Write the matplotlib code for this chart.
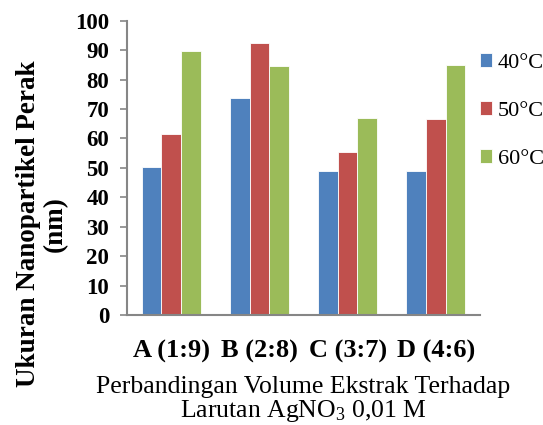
import matplotlib
matplotlib.use("Agg")
import matplotlib.pyplot as plt
import numpy as np

categories = ["A (1:9)", "B (2:8)", "C (3:7)", "D (4:6)"]
series_names = ["40°C", "50°C", "60°C"]
v40 = [50.3, 73.6, 49.1, 48.9]
v50 = [61.6, 92.6, 55.3, 66.6]
v60 = [89.7, 84.6, 66.8, 84.9]
colors = ["#4F81BD", "#C0504D", "#9BBB59"]
yticks = [0, 10, 20, 30, 40, 50, 60, 70, 80, 90, 100]

plt.rcParams['font.family'] = ['Liberation Serif', 'DejaVu Serif']
plt.rcParams['mathtext.fontset'] = 'custom'
plt.rcParams['mathtext.rm'] = 'Liberation Serif'
plt.rcParams['mathtext.it'] = 'Liberation Serif:italic'
plt.rcParams['mathtext.bf'] = 'Liberation Serif:bold'

fig = plt.figure(figsize=(5.43, 4.25), dpi=100)
ax = fig.add_axes([0.234, 0.259, 0.650, 0.692])

x = np.arange(len(categories))
w = 0.223
for i, (vals, name, c) in enumerate(zip([v40, v50, v60], series_names, colors)):
    ax.bar(x + (i - 1) * w, vals, w, color=c, label=name, edgecolor='white', linewidth=0.6)

ax.set_xlim(-0.5, len(categories) - 0.5)
ax.set_ylim(0, 100)
ax.set_yticks(yticks)
ax.set_yticklabels([str(t) for t in yticks], fontsize=16.5, fontweight='bold')
ax.set_xticks(x)
ax.set_xticklabels(categories, fontsize=19, fontweight='bold')
ax.tick_params(axis='x', length=0, pad=18)
ax.tick_params(axis='y', length=5, width=1.2, color='#868686', direction='out', pad=8)
for s in ['top', 'right']:
    ax.spines[s].set_visible(False)
for s in ['left', 'bottom']:
    ax.spines[s].set_color('#868686')
    ax.spines[s].set_linewidth(1.5)

ax.set_ylabel("Ukuran Nanopartikel Perak\n(nm)", fontsize=19.5, fontweight='bold', linespacing=1.1)
ax.yaxis.set_label_coords(-0.167, 0.31)
ax.set_xlabel("Perbandingan Volume Ekstrak Terhadap\nLarutan AgNO$_3$ 0,01 M", fontsize=18.5, linespacing=1.02, labelpad=9)

leg = ax.legend(loc='upper left', bbox_to_anchor=(0.975, 0.92), frameon=False, fontsize=16,
                handlelength=0.55, handleheight=0.55, handletextpad=0.25, labelspacing=1.28, borderaxespad=0)

fig.savefig("out.png", dpi=100)
